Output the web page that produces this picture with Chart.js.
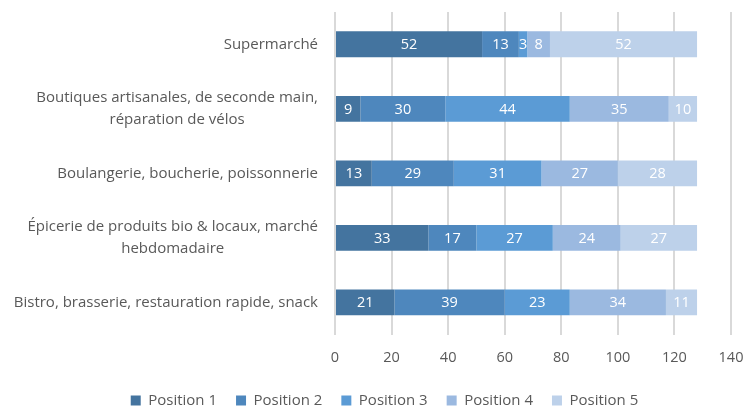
<!DOCTYPE html>
<html>
<head>
<meta charset="utf-8">
<script src="https://cdn.jsdelivr.net/npm/chart.js@4"></script>
<style>
  html, body { margin: 0; padding: 0; background: #fff; }
  #wrap { width: 745px; height: 406px; }
</style>
</head>
<body>
<div id="wrap"><canvas id="myChart"></canvas></div>
<script>
const categories = [
  "Supermarché",
  ["Boutiques artisanales, de seconde main,", "réparation de vélos"],
  "Boulangerie, boucherie, poissonnerie",
  ["Épicerie de produits bio & locaux, marché", "hebdomadaire"],
  "Bistro, brasserie, restauration rapide, snack"
]
const seriesNames = ["Position 1", "Position 2", "Position 3", "Position 4", "Position 5"]
const position1 = [52, 9, 13, 33, 21]
const position2 = [13, 30, 29, 17, 39]
const position3 = [3, 44, 31, 27, 23]
const position4 = [8, 35, 27, 24, 34]
const position5 = [52, 10, 28, 27, 11]
const xTicks = [0, 20, 40, 60, 80, 100, 120, 140]

const colors = ["#44749f", "#4e87bd", "#5b9bd5", "#9bb9e0", "#bdd1ea"]
const allSeries = [position1, position2, position3, position4, position5]
const textColor = "#595959"
const font = "'Open Sans', 'DejaVu Sans', sans-serif"
const fontSize = 14.5

// ***** data labels inside bars *****
const barLabels = {
  id: "barLabels",
  afterDatasetsDraw(chart) {
    const ctx = chart.ctx
    ctx.save()
    ctx.fillStyle = "#ffffff"
    ctx.font = fontSize + "px " + font
    ctx.textAlign = "center"
    ctx.textBaseline = "middle"
    chart.data.datasets.forEach((ds, i) => {
      chart.getDatasetMeta(i).data.forEach((bar, j) => {
        const x = (bar.x + bar.base) / 2
        ctx.fillText(ds.data[j], x, bar.y + 1)
      })
    })
    ctx.restore()
  }
}

// ***** category labels: block right-aligned, lines centred (like Excel) *****
const categoryLabels = {
  id: "categoryLabels",
  afterDraw(chart) {
    const ctx = chart.ctx
    const yScale = chart.scales.y
    const rightEdge = yScale.right - 17
    const lineHeight = 22
    ctx.save()
    ctx.fillStyle = textColor
    ctx.font = "15px " + font
    ctx.textAlign = "center"
    ctx.textBaseline = "middle"
    categories.forEach((label, i) => {
      const lines = Array.isArray(label) ? label : [label]
      const widest = Math.max(...lines.map(l => ctx.measureText(l).width))
      const cx = rightEdge - widest / 2
      const cy = yScale.getPixelForValue(i)
      lines.forEach((line, k) => {
        ctx.fillText(line, cx, cy + (k - (lines.length - 1) / 2) * lineHeight)
      })
    })
    ctx.restore()
  }
}

const ctx = document.getElementById("myChart").getContext("2d")
const myChart = new Chart(ctx, {
  type: "bar",
  data: {
    labels: categories,
    datasets: seriesNames.map((name, i) => ({
      label: name,
      data: allSeries[i],
      backgroundColor: colors[i],
      borderWidth: 0,
      categoryPercentage: 1,
      barPercentage: 0.4
    }))
  },
  options: {
    indexAxis: "y",
    responsive: true,
    maintainAspectRatio: false,
    animation: false,
    layout: { padding: { left: 24, right: 0, top: 12, bottom: -12 } },
    scales: {
      x: {
        stacked: true,
        min: 0,
        max: 140,
        afterBuildTicks: scale => { scale.ticks = xTicks.map(v => ({ value: v })) },
        afterFit: scale => {
          scale.paddingRight = 14
          scale.height = scale.height - 8
        },
        grid: { color: "#d9d9d9", lineWidth: 2, drawTicks: false },
        border: { display: false },
        ticks: { color: textColor, padding: 15, font: { family: font, size: fontSize } }
      },
      y: {
        stacked: true,
        grid: { display: false },
        border: { display: false },
        ticks: { display: false },
        afterFit: scale => {
          scale.width = 311
          scale.paddingTop = 0
          scale.paddingBottom = 0
        }
      }
    },
    plugins: {
      legend: {
        position: "bottom",
        labels: {
          boxWidth: 10,
          boxHeight: 10,
          padding: 19,
          color: textColor,
          font: { family: font, size: 15 }
        }
      },
      tooltip: { enabled: false }
    }
  },
  plugins: [barLabels, categoryLabels]
})
</script>
</body>
</html>
